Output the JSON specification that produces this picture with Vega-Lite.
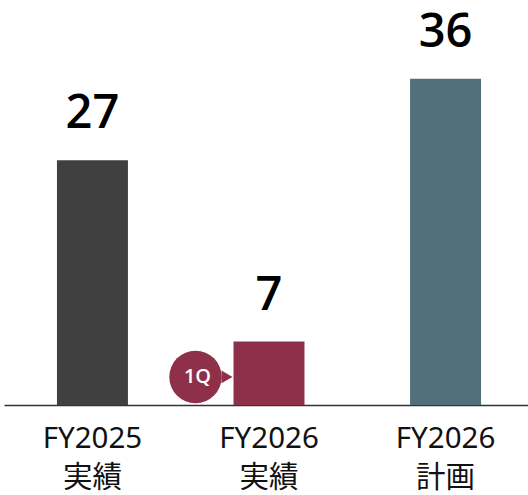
{
  "$schema": "https://vega.github.io/schema/vega-lite/v6.json",
  "width": 524,
  "height": 405,
  "padding": {"left": 4, "top": 0, "right": 0, "bottom": 0},
  "background": "white",
  "config": {"view": {"stroke": null}, "font": "Noto Sans"},
  "data": {
    "values": [
      {"category": "FY2025|実績", "value": 27, "badge": ""},
      {"category": "FY2026|実績", "value": 7, "badge": "1Q"},
      {"category": "FY2026|計画", "value": 36, "badge": ""}
    ]
  },
  "encoding": {
    "x": {
      "field": "category",
      "type": "nominal",
      "sort": null,
      "scale": {"paddingInner": 0.598, "paddingOuter": 0.283, "align": 0.53},
      "axis": {
        "title": null,
        "labelAngle": 0,
        "labelExpr": "split(datum.value, '|')",
        "labelFont": "Noto Sans, Noto Sans CJK JP",
        "labelFontSize": 29.5,
        "labelColor": "#111111",
        "labelBaseline": "top",
        "labelPadding": 19,
        "labelLineHeight": 39,
        "ticks": false,
        "domainColor": "#333333",
        "domainWidth": 1.5
      }
    }
  },
  "layer": [
    {
      "mark": {"type": "bar"},
      "encoding": {
        "y": {
          "field": "value",
          "type": "quantitative",
          "scale": {"domain": [0, 44.7], "nice": false, "zero": true},
          "axis": null
        },
        "color": {
          "field": "category",
          "type": "nominal",
          "sort": null,
          "scale": {"range": ["#404040", "#8E3049", "#52707A"]},
          "legend": null
        }
      }
    },
    {
      "mark": {"type": "text", "baseline": "alphabetic", "align": "center", "dy": -32, "fontSize": 47, "fontWeight": 600, "font": "Open Sans", "color": "#000000"},
      "encoding": {
        "y": {"field": "value", "type": "quantitative"},
        "text": {"field": "value", "type": "quantitative"}
      }
    },
    {
      "transform": [{"filter": "datum.badge != ''"}],
      "mark": {"type": "point", "shape": "triangle-right", "filled": true, "size": 160, "opacity": 1, "xOffset": -42, "color": "#8E3049"},
      "encoding": {
        "y": {"datum": 3.1, "type": "quantitative"}
      }
    },
    {
      "transform": [{"filter": "datum.badge != ''"}],
      "mark": {"type": "circle", "size": 2750, "opacity": 1, "xOffset": -73.5, "color": "#8E3049"},
      "encoding": {
        "y": {"datum": 3.1, "type": "quantitative"}
      }
    },
    {
      "transform": [{"filter": "datum.badge != ''"}],
      "mark": {"type": "text", "align": "center", "baseline": "middle", "xOffset": -71.5, "fontSize": 20, "fontWeight": 600, "font": "Open Sans", "color": "white"},
      "encoding": {
        "y": {"datum": 3.1, "type": "quantitative"},
        "text": {"field": "badge"}
      }
    }
  ]
}
